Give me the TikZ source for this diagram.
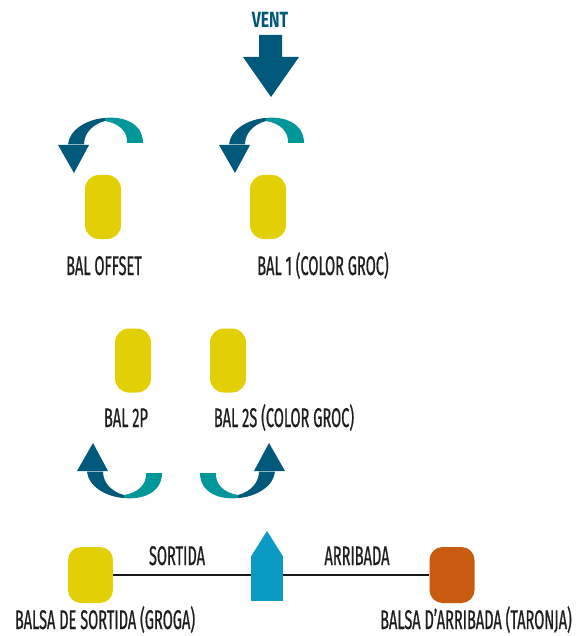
\documentclass[tikz,border=0pt]{standalone}
\usepackage{fontspec}
\setmainfont{Fira Sans}[FakeStretch=0.54,FakeBold=0.6]
\newfontfamily\ventfont{Fira Sans}[FakeStretch=0.72,BoldFont=* Bold]
\begin{document}
\definecolor{dblue}{HTML}{00587A}
\definecolor{tealc}{HTML}{00979A}
\definecolor{yel}{HTML}{E3CF06}
\definecolor{ora}{HTML}{C85B10}
\definecolor{lblue}{HTML}{0B99C6}
\definecolor{txt}{HTML}{1E1E1E}
\tikzset{
  buoy/.style={fill=yel, rounded corners=14pt, minimum width=36pt, minimum height=64pt, inner sep=0pt, draw=none},
  bigbuoy/.style={rounded corners=13pt, minimum width=45pt, minimum height=56pt, inner sep=0pt, draw=none},
  lbl/.style={font=\fontsize{27}{27}\selectfont, text=txt, anchor=base, inner sep=0pt},
  turn/.pic={
    \fill[dblue] (-15,-28) -- (16,-28) -- (1,0) -- cycle;
    \fill[dblue] (-5,-28.5) .. controls (-4,-43) and (14,-54) .. (32,-55)
       -- (32,-52) .. controls (20,-49) and (11,-40) .. (11,-28.5) -- cycle;
    \fill[tealc] (32,-55) .. controls (50,-57) and (70,-50) .. (70,-30)
       -- (54,-30) .. controls (55,-42) and (45,-50) .. (32,-52) -- cycle;
  }
}
\begin{tikzpicture}[x=1pt,y=-1pt]
\useasboundingbox (0,0) rectangle (578,636);
% wind
\node[font=\ventfont\bfseries\fontsize{22}{22}\selectfont, text=dblue, anchor=base, inner sep=0pt] (vent) at (270,28) {VENT};
\fill[dblue] (259,35) -- (282,35) -- (282,57) -- (299,57) -- (271,97) -- (243,57) -- (259,57) -- cycle;
% turning arrows
\pic at (73,173) {turn};
\pic at (234,173) {turn};
\pic[yscale=-1] at (92,443) {turn};
\pic[xscale=-1,yscale=-1] at (270,443) {turn};
% buoys
\node[buoy] (boff) at (103,207) {};
\node[buoy] (b1) at (268,207) {};
\node[buoy] (b2p) at (133,360.5) {};
\node[buoy] (b2s) at (228,360.5) {};
\node[lbl] (loff) at (104,275) {BAL OFFSET};
\node[lbl] (l1) at (323,275) {BAL 1 (COLOR GROC)};
\node[lbl] (l2p) at (126,427) {BAL 2P};
\node[lbl] (l2s) at (284,427) {BAL 2S (COLOR GROC)};
% start / finish
\node[bigbuoy, fill=yel] (sy) at (90.5,575) {};
\node[bigbuoy, fill=ora] (so) at (452,575) {};
\node[fill=lblue, minimum width=32pt, minimum height=44pt, inner sep=0pt] (house) at (267,579) {};
\fill[lblue] (house.north west) -- (267,531) -- (house.north east) -- cycle;
\draw[line width=2pt, black!90] (sy.east) -- (sy.east -| house.west);
\draw[line width=2pt, black!90] (so.west -| house.east) -- (so.west);
\node[lbl] (ls) at (177,565) {SORTIDA};
\node[lbl] (la) at (357,565) {ARRIBADA};
\node[lbl] (lsy) at (105,629) {BALSA DE SORTIDA (GROGA)};
\node[lbl] (lso) at (476,629) {BALSA D’ARRIBADA (TARONJA)};
\end{tikzpicture}
\end{document}
